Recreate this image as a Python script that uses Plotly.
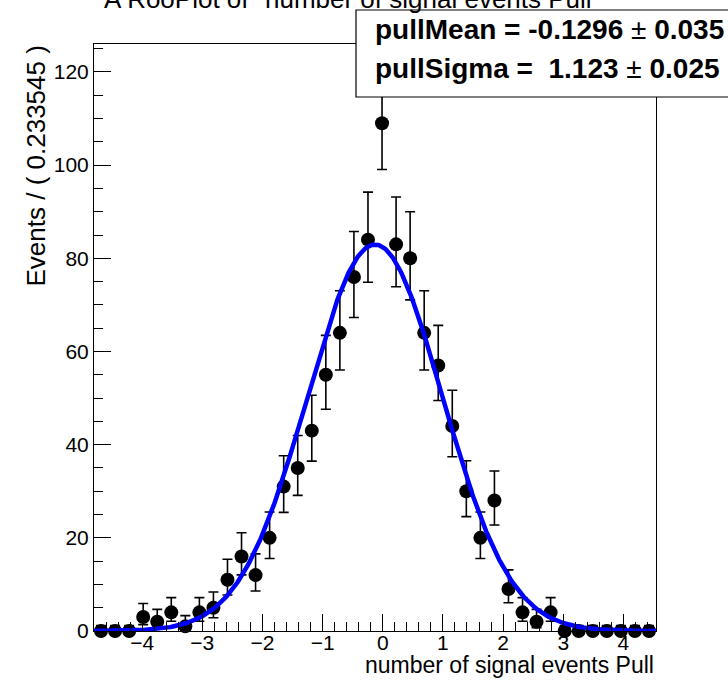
import math
import numpy as np
import plotly.graph_objects as go

# ---- binned data: 40 bins of the pull distribution ----
x_min = -4.80
bin_width = 0.233545
counts = [0, 0, 0, 3, 2, 4, 1, 4, 5, 11,
          16, 12, 20, 31, 35, 43, 55, 64, 76, 84,
          109, 83, 80, 64, 57, 44, 30, 20, 28, 9,
          4, 2, 4, 0, 0, 0, 0, 0, 0, 0]

# ---- fitted Gaussian parameters ----
pull_mean = -0.1296
pull_mean_err = 0.035
pull_sigma = 1.123
pull_sigma_err = 0.025

x_ticks = [-4, -3, -2, -1, 0, 1, 2, 3, 4]
y_ticks = [0, 20, 40, 60, 80, 100, 120]

n_bins = len(counts)
x_max = x_min + n_bins * bin_width
centers = [x_min + (i + 0.5) * bin_width for i in range(n_bins)]


def poisson_cdf(k, mu):
    if k < 0:
        return 0.0
    if mu <= 0:
        return 1.0
    total = 0.0
    for j in range(k + 1):
        total += math.exp(-mu + j * math.log(mu) - math.lgamma(j + 1))
    return total


def solve(f, target, lo, hi):
    # f is decreasing in mu
    for _ in range(200):
        mid = 0.5 * (lo + hi)
        if f(mid) > target:
            lo = mid
        else:
            hi = mid
    return 0.5 * (lo + hi)


def poisson_interval(n):
    """Central 68.27% Poisson interval, RooHistError style."""
    cl = math.erf(1 / math.sqrt(2))
    alpha = 1 - cl
    if n > 100:
        return n - math.sqrt(n + 0.25) + 0.5, n + math.sqrt(n + 0.25) + 0.5
    if n == 0:
        return 0.0, solve(lambda m: poisson_cdf(0, m), alpha, 0.0, 20.0)
    beta = alpha / 2
    up = solve(lambda m: poisson_cdf(n, m), beta, n, n + 10 * math.sqrt(n) + 10)
    lo = solve(lambda m: poisson_cdf(n - 1, m), 1 - beta, 0.0, n)
    return lo, up


err_lo, err_hi = [], []
for n in counts:
    lo, up = poisson_interval(n)
    err_lo.append(n - lo)
    err_hi.append(up - n)

# Gaussian curve normalised to the number of entries
n_total = sum(counts)
xc = np.linspace(x_min, x_max, 600)
yc = n_total * bin_width / (math.sqrt(2 * math.pi) * pull_sigma) * \
    np.exp(-0.5 * ((xc - pull_mean) / pull_sigma) ** 2)

FONT = "Liberation Sans, Arial, Helvetica, sans-serif"

fig = go.Figure()
fig.add_trace(go.Scatter(
    x=centers, y=counts, mode="markers",
    marker=dict(color="black", size=14, symbol="circle"),
    error_y=dict(type="data", symmetric=False, array=err_hi, arrayminus=err_lo,
                 color="black", thickness=1.6, width=5),
    cliponaxis=False, showlegend=False, hoverinfo="x+y",
))
fig.add_trace(go.Scatter(
    x=xc, y=yc, mode="lines",
    line=dict(color="#0000ff", width=4.5),
    showlegend=False, hoverinfo="skip",
))

# plot area in pixels: x 94..656, y 44..631
L, R, T, B = 94, 656, 44, 631
W, H = 728, 683


def px(xp):
    return (xp - L) / (R - L)


def py(yp):
    return (B - yp) / (B - T)


fig.update_layout(
    width=W, height=H,
    margin=dict(l=L, r=W - R, t=T, b=H - B, pad=0),
    paper_bgcolor="white", plot_bgcolor="white",
    font=dict(family=FONT, color="black", size=21),
    xaxis=dict(
        range=[x_min, x_max], tickvals=x_ticks,
        ticks="inside", ticklen=17, tickwidth=1, tickcolor="black",
        minor=dict(dtick=0.2, tick0=0, ticks="inside", ticklen=9,
                   tickwidth=1, tickcolor="black"),
        showline=True, linecolor="black", linewidth=1, mirror=True,
        showgrid=False, zeroline=False, ticklabelstandoff=-7,
        tickfont=dict(size=21, family=FONT),
    ),
    yaxis=dict(
        range=[0, 126], tickvals=y_ticks,
        ticks="inside", ticklen=17, tickwidth=1, tickcolor="black",
        minor=dict(dtick=5, tick0=0, ticks="inside", ticklen=8.5,
                   tickwidth=1, tickcolor="black"),
        showline=True, linecolor="black", linewidth=1, mirror=True,
        showgrid=False, zeroline=False,
        tickfont=dict(size=21, family=FONT),
    ),
)

annotations = [
    # main title
    dict(text='A RooPlot of "number of signal events Pull"',
         xref="paper", yref="paper", x=px(352), y=py(16),
         xanchor="center", yanchor="bottom", showarrow=False,
         font=dict(size=26, family=FONT)),
    # y axis title
    dict(text="Events / ( 0.233545 )", textangle=-90,
         xref="paper", yref="paper", x=px(35), y=1.0,
         xanchor="center", yanchor="top", showarrow=False,
         font=dict(size=26, family=FONT)),
    # x axis title
    dict(text="number of signal events Pull",
         xref="paper", yref="paper", x=1.0, y=py(650),
         xanchor="right", yanchor="top", showarrow=False,
         font=dict(size=23, family=FONT)),
    # fit results
    dict(text=f"<b>pullMean = {pull_mean:.4f} </b>± <b>{pull_mean_err:.3f}</b>",
         xref="paper", yref="paper", x=px(373), y=py(30),
         xanchor="left", yanchor="middle", showarrow=False,
         font=dict(size=28, family=FONT)),
    dict(text=f"<b>pullSigma =  {pull_sigma:.3f} </b>± <b>{pull_sigma_err:.3f}</b>",
         xref="paper", yref="paper", x=px(373), y=py(68),
         xanchor="left", yanchor="middle", showarrow=False,
         font=dict(size=28, family=FONT)),
]
fig.update_layout(annotations=annotations)

# stats box
fig.add_shape(type="rect", xref="paper", yref="paper",
              x0=px(356), x1=px(745), y0=py(97), y1=py(10),
              line=dict(color="black", width=1.2), fillcolor="white",
              layer="above")

fig.write_html("out.html")
